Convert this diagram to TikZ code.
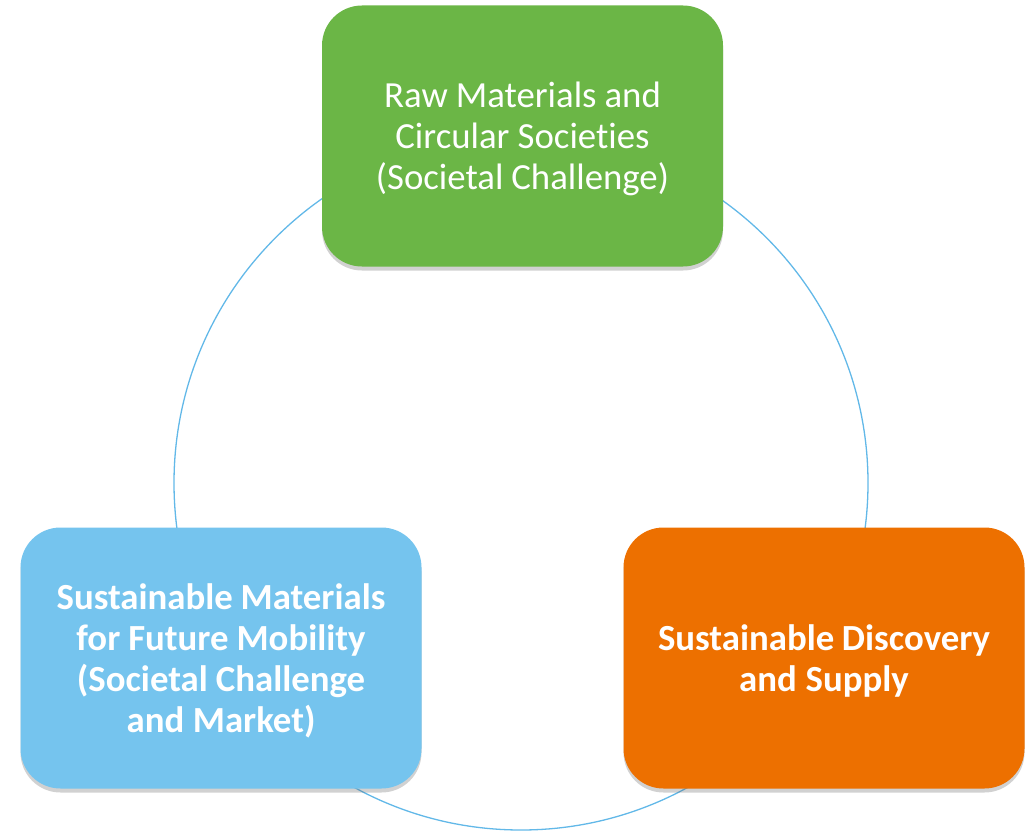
\documentclass[tikz,border=0pt]{standalone}
\usepackage{fontspec}
\setmainfont[Ligatures={NoCommon}]{Carlito}
\usetikzlibrary{shadows}
\newcommand\tightspaces{\spaceskip=7.2pt plus 1pt minus 1pt\relax}
\definecolor{boxgreen}{HTML}{6BB646}
\definecolor{boxblue}{HTML}{75C4EE}
\definecolor{boxorange}{HTML}{ED7000}
\definecolor{ringblue}{HTML}{62B8E8}
\tikzset{
  card/.style={rounded corners=40pt, minimum width=401pt, minimum height=261pt,
    inner sep=0pt,
    drop shadow={shadow xshift=0pt, shadow yshift=-4pt, opacity=0.3, fill=black!60}},
  cardtext/.style={inner sep=0pt, text=white, align=center, text width=398pt,
    font=\fontsize{36.8}{40.8}\selectfont},
  boldtext/.style={font=\fontsize{36.8}{41}\selectfont\bfseries},
  ring/.style={draw=ringblue, line width=1.3pt}
}
\begin{document}
\begin{tikzpicture}[x=1pt, y=-1pt]
\useasboundingbox (0,0) rectangle (1036,832);
\node[ring, circle, minimum size=694pt, inner sep=0pt] (cyc) at (521,483) {};
\node[card, fill=boxgreen] (top) at (522.5,136) {};
\node[card, fill=boxblue] (left) at (221,658) {};
\node[card, fill=boxorange] (right) at (824,658) {};
\node[cardtext] (toptext) at ([yshift=-3pt]top.center) {\tightspaces Raw Materials and\\Circular Societies\\(Societal Challenge)};
\node[cardtext, boldtext] (lefttext) at ([yshift=-3pt]left.center) {\tightspaces Sustainable Materials\\for Future Mobility\\(Societal Challenge\\and Market)};
\node[cardtext, boldtext] (righttext) at ([yshift=-3pt]right.center) {\tightspaces Sustainable Discovery\\and Supply};
\end{tikzpicture}
\end{document}
